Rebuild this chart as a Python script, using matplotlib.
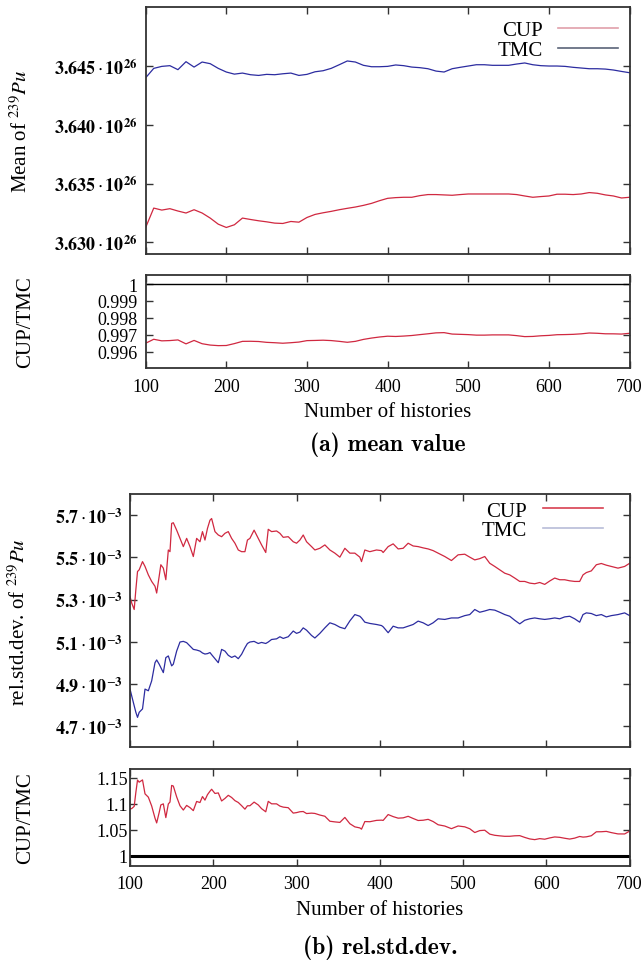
import os
import numpy as np
import matplotlib
matplotlib.use('Agg')
import matplotlib.pyplot as plt
from matplotlib.lines import Line2D
from matplotlib.ticker import FixedLocator, FuncFormatter
from matplotlib.font_manager import FontProperties

plt.rcParams['font.family'] = ['Liberation Serif', 'DejaVu Serif']
plt.rcParams['mathtext.fontset'] = 'stix'

RED = '#d02840'
BLUE = '#2c2ca0'

# (a) mean value of 239Pu, in units of 1e26
hist_a = list(range(100, 701, 10))
tmc_mean = [3.64400, 3.64480, 3.64497, 3.64503, 3.64469, 3.64537, 3.64491, 3.64534, 3.64520, 3.64480,
            3.64449, 3.64431, 3.64440, 3.64426, 3.64420, 3.64429, 3.64426, 3.64434, 3.64440, 3.64420,
            3.64429, 3.64451, 3.64460, 3.64480, 3.64511, 3.64543, 3.64534, 3.64506, 3.64494, 3.64494,
            3.64497, 3.64509, 3.64503, 3.64491, 3.64486, 3.64477, 3.64457, 3.64449, 3.64477, 3.64489,
            3.64500, 3.64511, 3.64511, 3.64506, 3.64506, 3.64506, 3.64517, 3.64526, 3.64511, 3.64503,
            3.64500, 3.64500, 3.64497, 3.64489, 3.64483, 3.64477, 3.64477, 3.64474, 3.64466, 3.64454,
            3.64443]
cup_mean = [3.63126, 3.63291, 3.63274, 3.63286, 3.63266, 3.63249, 3.63277, 3.63249, 3.63206, 3.63154,
            3.63126, 3.63149, 3.63206, 3.63194, 3.63183, 3.63174, 3.63163, 3.63160, 3.63177, 3.63171,
            3.63211, 3.63237, 3.63251, 3.63263, 3.63277, 3.63289, 3.63300, 3.63314, 3.63331, 3.63354,
            3.63374, 3.63380, 3.63383, 3.63383, 3.63397, 3.63406, 3.63406, 3.63403, 3.63400, 3.63406,
            3.63411, 3.63411, 3.63411, 3.63411, 3.63411, 3.63411, 3.63406, 3.63394, 3.63383, 3.63389,
            3.63394, 3.63409, 3.63409, 3.63406, 3.63411, 3.63423, 3.63417, 3.63403, 3.63394, 3.63377,
            3.63383]

# (b) rel.std.dev. of 239Pu, in units of 1e-3
hist_b = [100, 102, 105, 107, 109, 111, 115, 118, 122, 126, 130, 132, 135, 137, 140, 143, 146, 148,
          150, 152, 156, 160, 164, 168, 172, 176, 180, 184, 187, 190, 193, 196, 198, 202, 206, 210,
          214, 218, 222, 226, 230, 234, 238, 241, 244, 249, 254, 258, 263, 266, 270, 276, 280, 284,
          290, 296, 300, 304, 308, 312, 318, 322, 328, 334, 340, 346, 352, 358, 364, 370, 376, 378,
          382, 388, 396, 402,
          404, 410, 416, 422, 428, 434, 440, 446, 452, 458, 464, 470, 478, 486, 494, 502, 508, 514,
          520, 526, 532, 538, 544, 550, 556, 562, 568, 574, 580, 586, 592, 598, 604, 610, 616, 622,
          628, 634, 640, 644, 648, 654, 660, 666, 672, 678, 686, 694, 700]
cup_std = [5.315, 5.284, 5.253, 5.347, 5.433, 5.441, 5.480, 5.457, 5.417, 5.386, 5.363, 5.331, 5.410,
           5.465, 5.449, 5.394, 5.535, 5.527, 5.661, 5.664, 5.629, 5.590, 5.551, 5.590, 5.551, 5.504,
           5.590, 5.574, 5.622, 5.582, 5.637, 5.676, 5.684, 5.622, 5.606, 5.598, 5.614, 5.622, 5.590,
           5.567, 5.535, 5.527, 5.527, 5.582, 5.590, 5.629, 5.590, 5.559, 5.523, 5.633, 5.622, 5.625,
           5.614, 5.595, 5.598, 5.574, 5.567, 5.582, 5.606, 5.574, 5.551, 5.535, 5.543, 5.559, 5.535,
           5.520, 5.501, 5.543, 5.520, 5.520, 5.501, 5.480, 5.535, 5.527, 5.535, 5.532,
           5.523, 5.551, 5.564, 5.540, 5.543, 5.567, 5.554, 5.551, 5.545, 5.540, 5.532, 5.520, 5.504,
           5.485, 5.512, 5.515, 5.501, 5.488, 5.494, 5.504, 5.472, 5.457, 5.441, 5.425, 5.417, 5.402,
           5.386, 5.386, 5.378, 5.375, 5.381, 5.372, 5.388, 5.402, 5.394, 5.394, 5.389, 5.386, 5.386,
           5.417, 5.428, 5.436, 5.465, 5.471, 5.463, 5.457, 5.449, 5.457, 5.472]
tmc_std = [4.876, 4.844, 4.797, 4.766, 4.742, 4.766, 4.782, 4.876, 4.868, 4.915, 5.001, 5.014, 4.994,
           4.978, 4.954, 5.025, 5.033, 5.009, 4.986, 4.994, 5.056, 5.099, 5.102, 5.096, 5.080, 5.064,
           5.061, 5.056, 5.047, 5.042, 5.044, 5.049, 5.039, 5.020, 5.001, 5.064, 5.056, 5.036, 5.026,
           5.033, 5.020, 5.041, 5.072, 5.092, 5.099, 5.102, 5.092, 5.097, 5.092, 5.099, 5.111, 5.114,
           5.124, 5.116, 5.124, 5.151, 5.140, 5.146, 5.166, 5.155, 5.130, 5.118, 5.140, 5.166, 5.190,
           5.182, 5.169, 5.162, 5.199, 5.229, 5.221, 5.213, 5.193, 5.187, 5.182, 5.177,
           5.171, 5.143, 5.174, 5.166, 5.166, 5.174, 5.182, 5.198, 5.190, 5.177, 5.190, 5.209, 5.206,
           5.213, 5.213, 5.224, 5.229, 5.253, 5.240, 5.246, 5.253, 5.250, 5.240, 5.229, 5.221, 5.202,
           5.185, 5.202, 5.209, 5.213, 5.209, 5.206, 5.209, 5.213, 5.209, 5.218, 5.221, 5.209, 5.193,
           5.229, 5.237, 5.234, 5.224, 5.229, 5.218, 5.224, 5.229, 5.237, 5.224]

x_ticks = [100, 200, 300, 400, 500, 600, 700]

# computer-modern bold that ships with matplotlib, for the sub-captions
cm_bold = FontProperties(fname=os.path.join(matplotlib.get_data_path(), 'fonts', 'ttf', 'cmb10.ttf'),
                         size=17)


def style(ax, ypad, show_x):
    ax.set_xlim(100, 700)
    ax.xaxis.set_major_locator(FixedLocator(x_ticks))
    ax.tick_params(direction='in', top=True, right=True, length=5, width=1.0,
                   color='#333333', labelsize=13)
    ax.tick_params(axis='y', pad=ypad)
    ax.tick_params(axis='x', pad=7, labelbottom=show_x)
    for s in ax.spines.values():
        s.set_linewidth(1.3)
        s.set_color('#333333')


fig = plt.figure(figsize=(6.44, 9.62), dpi=100)

# ---- (a) mean value ----
ax1 = fig.add_axes([0.2262, 0.7349, 0.7514, 0.2565])
ax1.plot(hist_a, cup_mean, color=RED, lw=0.9)
ax1.plot(hist_a, tmc_mean, color=BLUE, lw=0.9)
ax1.set_ylim(3.629, 3.650)
ax1.yaxis.set_major_locator(FixedLocator([3.630, 3.635, 3.640, 3.645]))
ax1.yaxis.set_major_formatter(
    FuncFormatter(lambda v, p: r'$\mathbf{%.3f}\cdot\mathbf{10}^{\mathbf{26}}$' % v))
style(ax1, 6, False)
ax1.set_ylabel(r'Mean of $^{239}Pu$', fontsize=15)
ax1.yaxis.set_label_coords(-0.235, 0.5)
h1 = [Line2D([], [], color='#e0a0aa', lw=1.2), Line2D([], [], color='#5a6478', lw=1.2)]
ax1.legend(h1, ['CUP', 'TMC'], loc='upper right', bbox_to_anchor=(0.976, 0.945),
           frameon=False, markerfirst=False, fontsize=15, labelspacing=0.0,
           handlelength=2.9, handletextpad=0.7, borderpad=0, borderaxespad=0)

ax2 = fig.add_axes([0.2262, 0.6164, 0.7514, 0.0970])
ratio_a = np.array(cup_mean) / np.array(tmc_mean)
ax2.axhline(1.0, color='black', lw=1.0)
ax2.plot(hist_a, ratio_a, color=RED, lw=0.9)
ax2.set_ylim(0.99504, 1.00055)
ax2.yaxis.set_major_locator(FixedLocator([0.996, 0.997, 0.998, 0.999, 1.0]))
ax2.yaxis.set_major_formatter(FuncFormatter(lambda v, p: '%g' % round(v, 3)))
style(ax2, 6, True)
ax2.set_ylabel('CUP/TMC', fontsize=15)
ax2.yaxis.set_label_coords(-0.228, 0.5)
ax2.set_xlabel('Number of histories', fontsize=15)
ax2.xaxis.set_label_coords(0.5, -0.36)

fig.text(0.6019, 0.5374, '(a) mean value', fontproperties=cm_bold, ha='center', va='center')

# ---- (b) rel.std.dev. ----
ax3 = fig.add_axes([0.2019, 0.2221, 0.7758, 0.2633])
ax3.plot(hist_b, cup_std, color=RED, lw=0.9)
ax3.plot(hist_b, tmc_std, color=BLUE, lw=0.9)
ax3.set_ylim(4.60, 5.80)
ax3.yaxis.set_major_locator(FixedLocator([4.7, 4.9, 5.1, 5.3, 5.5, 5.7]))
ax3.yaxis.set_major_formatter(
    FuncFormatter(lambda v, p: r'$\mathbf{%.1f}\cdot\mathbf{10}^{-\mathbf{3}}$' % v))
style(ax3, 5, False)
ax3.set_ylabel(r'rel.std.dev. of $^{239}Pu$', fontsize=15)
ax3.yaxis.set_label_coords(-0.2, 0.5)
h3 = [Line2D([], [], color='#d84050', lw=1.2), Line2D([], [], color='#b8bcd8', lw=1.2)]
ax3.legend(h3, ['CUP', 'TMC'], loc='upper right', bbox_to_anchor=(0.947, 0.972),
           frameon=False, markerfirst=False, fontsize=15, labelspacing=0.0,
           handlelength=2.9, handletextpad=0.75, borderpad=0, borderaxespad=0)

ax4 = fig.add_axes([0.2019, 0.0991, 0.7758, 0.1005])
ratio_b = np.array(cup_std) / np.array(tmc_std)
ax4.axhline(1.0, color='black', lw=2.2)
ax4.plot(hist_b, ratio_b, color=RED, lw=0.9)
ax4.set_ylim(0.981, 1.167)
ax4.yaxis.set_major_locator(FixedLocator([1.0, 1.05, 1.1, 1.15]))
ax4.yaxis.set_major_formatter(FuncFormatter(lambda v, p: '%g' % round(v, 2)))
style(ax4, 1.5, True)
ax4.set_ylabel('CUP/TMC', fontsize=15)
ax4.yaxis.set_label_coords(-0.19, 0.5)
ax4.set_xlabel('Number of histories', fontsize=15)
ax4.xaxis.set_label_coords(0.5, -0.36)

fig.text(0.590, 0.0150, '(b) rel.std.dev.', fontproperties=cm_bold, ha='center', va='center')

fig.savefig('out.png', dpi=100)
